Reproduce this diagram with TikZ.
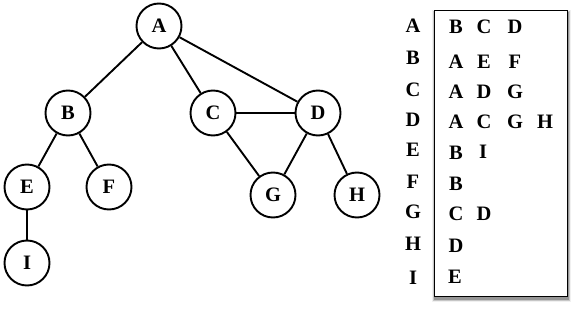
\documentclass[tikz,border=0pt]{standalone}
\usepackage{fontspec}
\setmainfont{Liberation Serif}
\begin{document}
\begin{tikzpicture}[x=1pt,y=-1pt,
  vtx/.style={circle,draw,line width=1.9pt,minimum size=45pt,inner sep=0pt,font=\fontsize{20.5}{22}\selectfont\bfseries},
  lbl/.style={inner sep=0pt,font=\fontsize{20.5}{22}\selectfont\bfseries},
  edge/.style={line width=1.9pt}]
\useasboundingbox (0,0) rectangle (580,315);
% graph
\node[vtx] (A) at (159,26) {A};
\node[vtx] (B) at (68,113) {B};
\node[vtx] (C) at (213,113) {C};
\node[vtx] (D) at (318,113) {D};
\node[vtx] (E) at (27,187) {E};
\node[vtx] (F) at (109,187) {F};
\node[vtx] (G) at (273,195) {G};
\node[vtx] (H) at (357,195) {H};
\node[vtx] (I) at (27,263) {I};
\draw[edge] (A) -- (B);
\draw[edge] (A) -- (C);
\draw[edge] (A) -- (D);
\draw[edge] (B) -- (E);
\draw[edge] (B) -- (F);
\draw[edge] (C) -- (D);
\draw[edge] (C) -- (G);
\draw[edge] (D) -- (G);
\draw[edge] (D) -- (H);
\draw[edge] (E) -- (I);
% shadow
\foreach \d/\o in {5/0.06,4/0.08,3/0.1,2/0.12,1/0.14}{
  \fill[black,opacity=\o] (434+1-\d*0.6,10+3-\d*0.6) rectangle (567+1+\d*0.6,296+3+\d*0.6);
}
\node[draw,fill=white,line width=1pt,minimum width=133pt,minimum height=286pt,inner sep=0pt,anchor=north west] (box) at (434,10) {};
% left labels
\foreach \t/\y in {A/26,B/58,C/90,D/120,E/150,F/182,G/212,H/244,I/278}{
  \node[lbl] (k\t) at (413,\y) {\t};
}
% list entries
\node[lbl] (a1) at (456,27) {B};
\node[lbl] (a2) at (484,27) {C};
\node[lbl] (a3) at (515,27) {D};
\node[lbl] (b1) at (456,62) {A};
\node[lbl] (b2) at (484,62) {E};
\node[lbl] (b3) at (515,62) {F};
\node[lbl] (c1) at (456,92) {A};
\node[lbl] (c2) at (484,92) {D};
\node[lbl] (c3) at (515,92) {G};
\node[lbl] (d1) at (456,122) {A};
\node[lbl] (d2) at (484,122) {C};
\node[lbl] (d3) at (515,122) {G};
\node[lbl] (d4) at (545,122) {H};
\node[lbl] (e1) at (456,153) {B};
\node[lbl] (e2) at (483,152) {I};
\node[lbl] (f1) at (456,184) {B};
\node[lbl] (g1) at (456,214) {C};
\node[lbl] (g2) at (484,214) {D};
\node[lbl] (h1) at (456,246) {D};
\node[lbl] (i1) at (455,277) {E};
\end{tikzpicture}
\end{document}
